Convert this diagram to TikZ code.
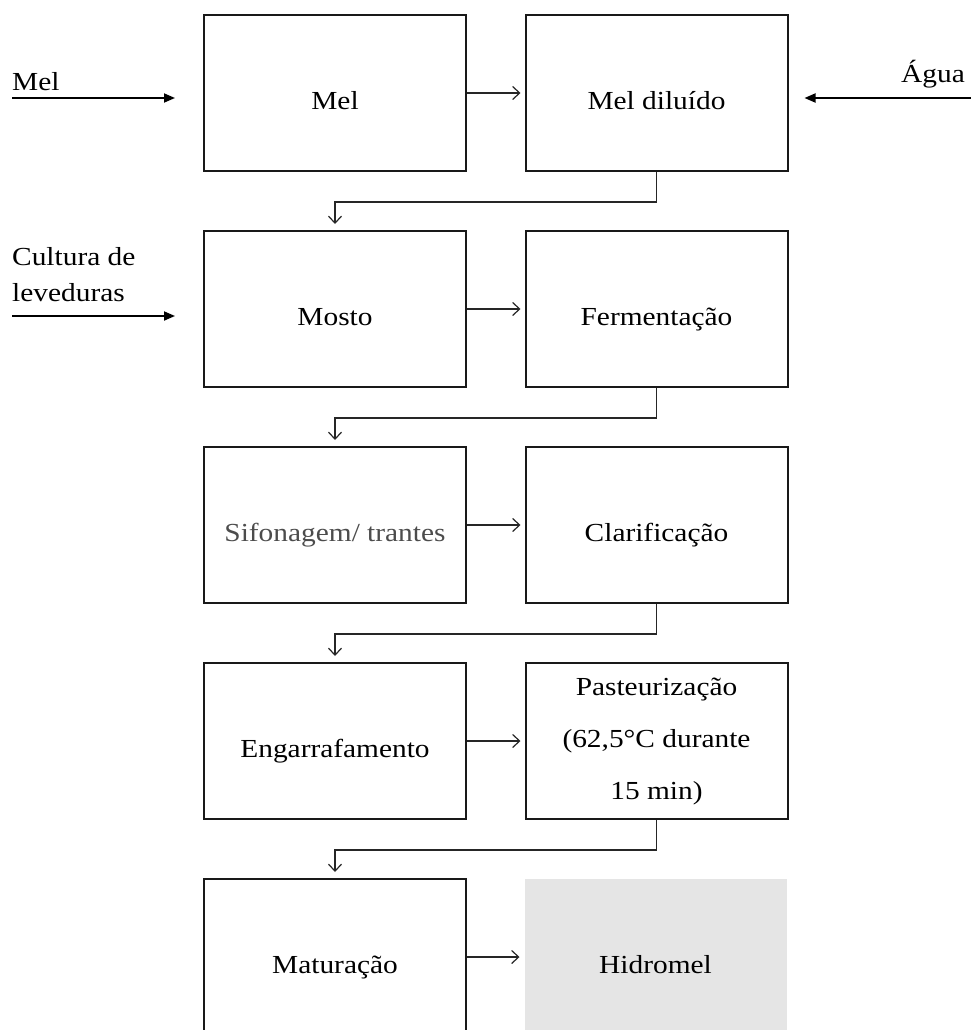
\documentclass[tikz,border=0pt]{standalone}
\usepackage{fontspec}
\setmainfont{Liberation Serif}[FakeStretch=1.13]
\usetikzlibrary{arrows.meta}
\begin{document}
\begin{tikzpicture}[x=1pt,y=-1pt,
  box/.style={draw=black!90, line width=2pt, minimum width=262pt, minimum height=156pt,
    inner sep=0pt, font=\fontsize{26}{36}\selectfont, align=center,
    text height=33pt, text depth=0pt},
  greybox/.style={box, draw=none, fill=black!10},
  lbl/.style={inner sep=0pt, font=\fontsize{26}{36}\selectfont},
  conn/.style={draw=black!85, line width=1.2pt, -{Straight Barb[length=7pt,width=13pt,line width=1.2pt]}},
  inarr/.style={draw=black, line width=1.8pt, -{Triangle[length=11pt,width=9pt]}}
]
\useasboundingbox (0,0) rectangle (970,1030);

% boxes
\node[box] (mel) at (335,93) {Mel};
\node[box] (dil) at (656.5,93) {Mel diluído};
\node[box] (mosto) at (335,309) {Mosto};
\node[box] (ferm) at (656.5,309) {Fermentação};
\node[box, text=black!70] (sif) at (335,525) {Sifonagem/ trantes};
\node[box] (clar) at (656.5,525) {Clarificação};
\node[box] (eng) at (335,741) {Engarrafamento};
\node[box, text height=, text depth=, font=\fontsize{26}{52}\selectfont] (past) at (656.5,741) {Pasteurização\\(62,5°C durante\\15 min)};
\node[box] (mat) at (335,957) {Maturação};
\node[greybox] (hid) at (655.5,957) {Hidromel};

% horizontal arrows
\draw[conn, shorten >=4pt] (mel.east) -- (dil.west);
\draw[conn, shorten >=4pt] (mosto.east) -- (ferm.west);
\draw[conn, shorten >=4pt] (sif.east) -- (clar.west);
\draw[conn, shorten >=4pt] (eng.east) -- (past.west);
\draw[conn, shorten >=4pt] (mat.east) -- (hid.west);

% down connectors
\draw[conn, shorten >=6pt] (dil.south) -- ++(0,30) -| (mosto.north);
\draw[conn, shorten >=6pt] (ferm.south) -- ++(0,30) -| (sif.north);
\draw[conn, shorten >=6pt] (clar.south) -- ++(0,30) -| (eng.north);
\draw[conn, shorten >=6pt] (past.south) -- ++(0,30) -| (mat.north);

% inputs
\coordinate (melin) at (12,98);
\coordinate (aguain) at (972,98);
\coordinate (cultin) at (12,316);
\draw[inarr, shorten >=28pt] (melin) -- (melin -| mel.west);
\draw[inarr, shorten >=16pt] (aguain) -- (aguain -| dil.east);
\draw[inarr, shorten >=28pt] (cultin) -- (cultin -| mosto.west);

\node[lbl, anchor=base west] (tmel) at (12,91) {Mel};
\node[lbl, anchor=base east] (tagua) at (965,83) {Água};
\node[lbl, anchor=base west] (tcult1) at (12,265) {Cultura de};
\node[lbl, anchor=base west] (tcult2) at (12,301) {leveduras};
\end{tikzpicture}
\end{document}
